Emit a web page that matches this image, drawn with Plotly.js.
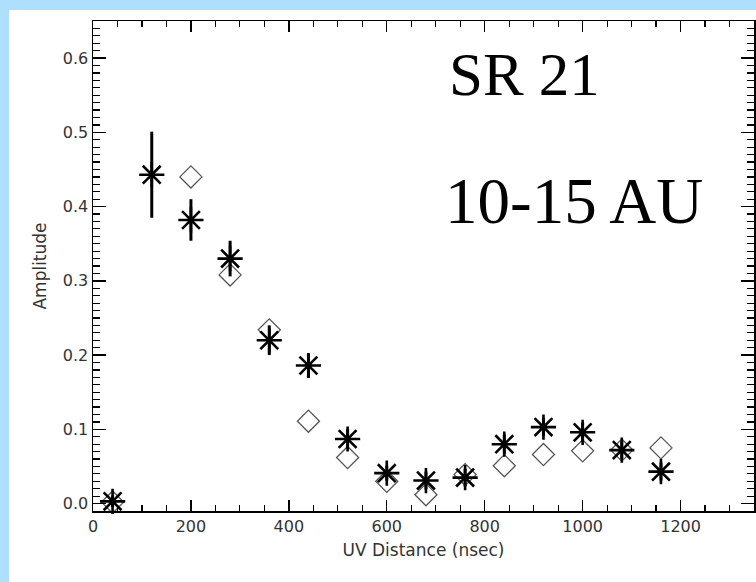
<!DOCTYPE html>
<html>
<head>
<meta charset="utf-8">
<script src="https://cdn.plot.ly/plotly-3.0.1.min.js"></script>
<style>
  html, body { margin: 0; padding: 0; width: 756px; height: 582px; background: #aedfff; overflow: hidden; }
  #chart { position: absolute; left: 9px; top: 10px; width: 747px; height: 572px; background: #ffffff; }
</style>
</head>
<body>
<div id="chart"></div>
<script>
// UV distance (nsec)
const uvDist = [40, 120, 200, 280, 360, 440, 520, 600, 680, 760, 840, 920, 1000, 1080, 1160];
// Observed amplitudes (asterisks)
const obsAmp = [0.003, 0.443, 0.382, 0.330, 0.220, 0.186, 0.087, 0.041, 0.031, 0.035, 0.080, 0.103, 0.096, 0.072, 0.043];
const obsErr = [0.008, 0.058, 0.028, 0.024, 0.020, 0.016, 0.013, 0.010, 0.012, 0.012, 0.013, 0.012, 0.013, 0.012, 0.012];
// Model amplitudes (diamonds), no model point at 120
const modelDist = [40, 200, 280, 360, 440, 520, 600, 680, 760, 840, 920, 1000, 1080, 1160];
const modelAmp = [0.002, 0.440, 0.308, 0.234, 0.111, 0.062, 0.030, 0.012, 0.039, 0.051, 0.066, 0.071, 0.072, 0.075];
// Tick labels
const xTicks = [0, 200, 400, 600, 800, 1000, 1200];
const yTicks = [0.0, 0.1, 0.2, 0.3, 0.4, 0.5, 0.6];
const title1 = "SR 21";
const title2 = "10-15 AU";

const traces = [
  {
    x: modelDist, y: modelAmp, type: 'scatter', mode: 'markers',
    marker: { symbol: 'diamond-open', size: 17, color: '#555555', line: { color: '#555555', width: 1.3 } },
    hoverinfo: 'skip', cliponaxis: false
  },
  {
    x: uvDist, y: obsAmp, type: 'scatter', mode: 'markers',
    error_y: { type: 'data', array: obsErr, visible: true, color: '#000000', thickness: 3, width: 0 },
    marker: { symbol: 'asterisk-open', size: 21, color: '#000000', line: { color: '#000000', width: 2.6 } },
    hoverinfo: 'skip', cliponaxis: false
  }
];

const tickFont = { family: 'DejaVu Sans, sans-serif', size: 16, color: '#333333' };
const titleFont = { family: 'DejaVu Sans, sans-serif', size: 17, color: '#333333' };

const layout = {
  width: 747, height: 572,
  margin: { l: 84, r: 2, t: 11, b: 71 },
  paper_bgcolor: '#ffffff', plot_bgcolor: '#ffffff',
  showlegend: false,
  xaxis: {
    range: [0, 1350], tickvals: xTicks, ticktext: xTicks.map(String),
    ticks: 'inside', ticklen: 11, tickwidth: 1.3, tickcolor: '#000000',
    minor: { dtick: 50, ticks: 'inside', ticklen: 6, tickwidth: 1.2, tickcolor: '#000000' },
    showline: true, linecolor: '#000000', linewidth: 1.5, mirror: 'allticks',
    showgrid: false, zeroline: false, tickfont: tickFont,
    title: { text: 'UV Distance (nsec)', font: titleFont, standoff: 9 }
  },
  yaxis: {
    range: [-0.01, 0.65], tickvals: yTicks, ticktext: yTicks.map(v => v.toFixed(1)),
    ticks: 'inside', ticklen: 13, tickwidth: 1.3, tickcolor: '#000000',
    minor: { dtick: 0.01, ticks: 'inside', ticklen: 7, tickwidth: 1.2, tickcolor: '#000000' },
    showline: true, linecolor: '#000000', linewidth: 1.5, mirror: 'allticks',
    showgrid: false, zeroline: false, tickfont: tickFont,
    title: { text: 'Amplitude', font: titleFont, standoff: 12 }
  },
  annotations: [
    { text: title1, xref: 'paper', yref: 'paper', x: 0.535, y: 0.89, xanchor: 'left', yanchor: 'middle',
      showarrow: false, font: { family: 'Liberation Serif, Times New Roman, serif', size: 61, color: '#000000' } },
    { text: title2, xref: 'paper', yref: 'paper', x: 0.530, y: 0.633, xanchor: 'left', yanchor: 'middle',
      showarrow: false, font: { family: 'Liberation Serif, Times New Roman, serif', size: 65, color: '#000000' } }
  ]
};

Plotly.newPlot('chart', traces, layout, { displayModeBar: false, staticPlot: true });
</script>
</body>
</html>
